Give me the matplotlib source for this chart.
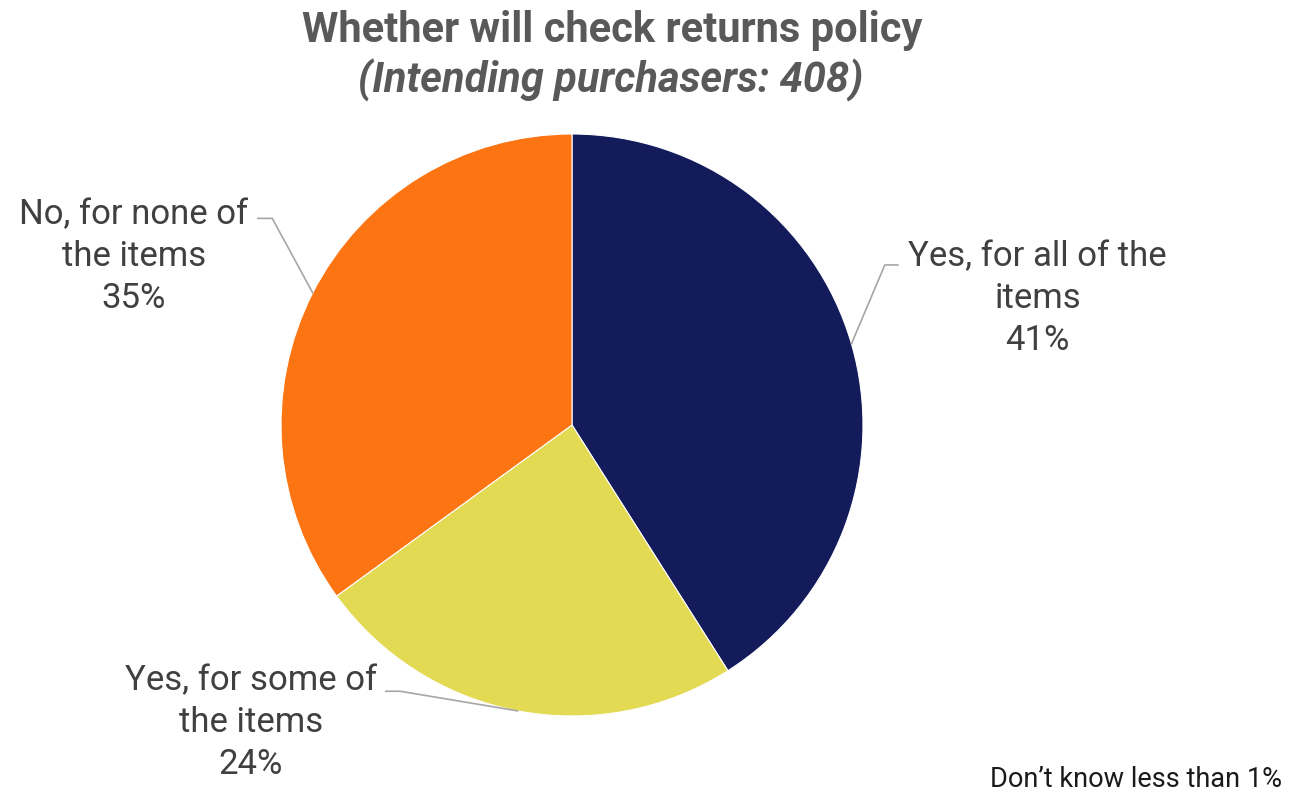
import numpy as np
import matplotlib.pyplot as plt

#------------------------------#
# DATA
#------------------------------#

labels = ['Yes, for all of the\nitems', 'Yes, for some of\nthe items', 'No, for none of\nthe items']
values = [41, 24, 35]
colors = ['#131b5a', '#e2da52', '#fc7512']

# label centres and leader elbows (data units, pie radius = 1)
label_pos = [(1.60, 0.433), (-1.103, -1.024), (-1.505, 0.58)]
elbows = [(1.075, 0.55), (-0.59, -0.915), (-1.03, 0.71)]
elbow_ends = [(1.12, 0.55), (-0.64, -0.915), (-1.08, 0.71)]

#------------------------------#
# PLOT
#------------------------------#

plt.rcParams['font.family'] = ['Roboto', 'DejaVu Sans']

W, H = 1289, 796
fig = plt.figure(figsize=(W / 100, H / 100), dpi=100)

cx, cy, r = 572, 425, 291
ax = fig.add_axes([(cx - r) / W, (H - cy - r) / H, 2 * r / W, 2 * r / H])
wedges, _ = ax.pie(values, colors=colors, startangle=90, counterclock=False,
                   radius=1, wedgeprops=dict(linewidth=0.8, edgecolor='white'))
ax.set_xlim(-1, 1)
ax.set_ylim(-1, 1)
ax.set_aspect('equal')

total = sum(values)
start = 90
for i, w in enumerate(wedges):
    mid = np.deg2rad(start - values[i] / total * 360 / 2)
    start -= values[i] / total * 360
    ex, ey = np.cos(mid), np.sin(mid)
    ax.plot([ex, elbows[i][0], elbow_ends[i][0]], [ey, elbows[i][1], elbow_ends[i][1]],
            color='#a6a6a6', linewidth=1.2, clip_on=False)
    lx, ly = label_pos[i]
    ax.text(lx, ly, '{}\n{}%'.format(labels[i], values[i]), ha='center', va='center',
            fontsize=25, color='#404040', linespacing=1.34, clip_on=False)

fig.text(612 / W, 1 - 42 / H, 'Whether will check returns policy', ha='center', va='baseline',
         fontsize=30, fontweight='bold', color='#595959')
fig.text(611 / W, 1 - 92 / H, '(Intending purchasers: 408)', ha='center', va='baseline',
         fontsize=30, fontweight='bold', fontstyle='italic', color='#595959')
fig.text(1282 / W, 1 - 787 / H, 'Don\u2019t know less than 1%', ha='right', va='baseline',
         fontsize=19.5, color='#1a1a1a')

fig.savefig('out.png', dpi=100, facecolor='white')
